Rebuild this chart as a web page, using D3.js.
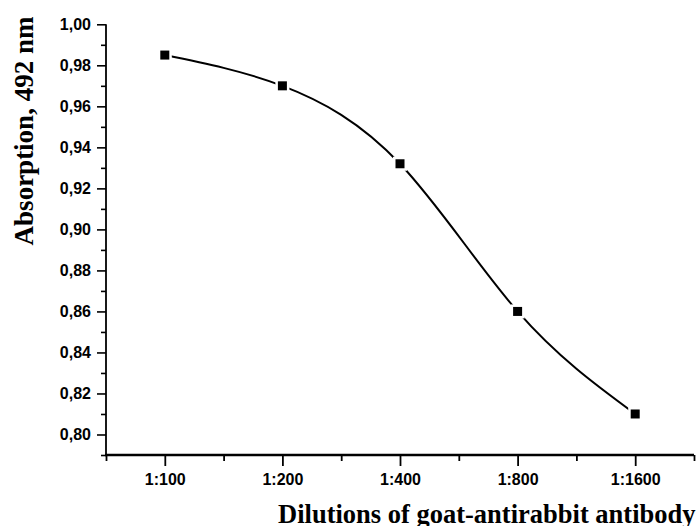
<!DOCTYPE html>
<html>
<head>
<meta charset="utf-8">
<script src="https://cdn.jsdelivr.net/npm/d3@7/dist/d3.min.js"></script>
<style>
  html, body { margin: 0; padding: 0; background: #fff; }
  svg { display: block; }
</style>
</head>
<body>
<svg id="chart" width="696" height="526"></svg>
<script>
const categories = ["1:100", "1:200", "1:400", "1:800", "1:1600"];
const absorption = [0.985, 0.970, 0.932, 0.860, 0.810];
const yMajorTicks = [0.80, 0.82, 0.84, 0.86, 0.88, 0.90, 0.92, 0.94, 0.96, 0.98, 1.00];
const yMinorTicks = [0.79, 0.81, 0.83, 0.85, 0.87, 0.89, 0.91, 0.93, 0.95, 0.97, 0.99];
const xTitle = "Dilutions of goat-antirabbit antibody";
const yTitle = "Absorption, 492 nm";

(function () {
const svg = d3.select("#chart");
const pLeft = 106, pRight = 694, pTop = 24.3, pBottom = 455;

const x = d3.scaleLinear().domain([-0.5, categories.length - 0.5]).range([pLeft, pRight]);
const y = d3.scaleLinear().domain([0.79, 1.00]).range([pBottom, pTop]);

const fmt = d => d3.format(".2f")(d).replace(".", ",");
const sans = "'Liberation Sans', Arial, sans-serif";
const serif = "'Liberation Serif', 'Times New Roman', serif";

// Y axis
const yAxis = svg.append("g").attr("transform", `translate(${pLeft},0)`);
yAxis.call(d3.axisLeft(y).tickValues(yMajorTicks).tickSize(9).tickPadding(6).tickFormat(fmt));
yAxis.select(".domain").remove();
yAxis.append("g").call(g => {
  g.call(d3.axisLeft(y).tickValues(yMinorTicks).tickSize(5).tickFormat(""));
  g.select(".domain").remove();
});
yAxis.append("line").attr("x1", 0).attr("x2", 0).attr("y1", y(1.00)).attr("y2", pBottom)
  .attr("stroke", "#000").attr("stroke-width", 1.8);
yAxis.selectAll(".tick line").attr("stroke", "#000").attr("stroke-width", 1.6);
yAxis.selectAll(".tick text")
  .attr("font-family", sans).attr("font-weight", "bold").attr("font-size", 16).attr("fill", "#000");

// X axis
const xAxis = svg.append("g").attr("transform", `translate(0,${pBottom})`);
const xMinor = d3.range(-0.5, categories.length, 1);
xAxis.call(d3.axisBottom(x).tickValues(d3.range(categories.length)).tickSize(11).tickPadding(8)
  .tickFormat(i => categories[i]));
xAxis.select(".domain").remove();
xAxis.append("g").call(g => {
  g.call(d3.axisBottom(x).tickValues(xMinor).tickSize(6).tickFormat(""));
  g.select(".domain").remove();
});
xAxis.append("line").attr("x1", pLeft - 1).attr("x2", pRight).attr("y1", 0).attr("y2", 0)
  .attr("stroke", "#000").attr("stroke-width", 2.4);
xAxis.selectAll(".tick line").attr("stroke", "#000").attr("stroke-width", 1.8);
xAxis.selectAll(".tick text")
  .attr("font-family", sans).attr("font-weight", "bold").attr("font-size", 16).attr("fill", "#000");

// Curve
const pts = categories.map((c, i) => [x(i), y(absorption[i])]);
svg.append("path")
  .attr("d", d3.line().curve(d3.curveNatural)(pts))
  .attr("fill", "none").attr("stroke", "#000").attr("stroke-width", 2);

// Markers
const s = 9, halo = 2.5;
svg.append("g").selectAll("rect").data(pts).join("rect")
  .attr("x", d => d[0] - s / 2 - halo).attr("y", d => d[1] - s / 2 - halo)
  .attr("width", s + 2 * halo).attr("height", s + 2 * halo).attr("fill", "#fff");
svg.append("g").selectAll("rect").data(pts).join("rect")
  .attr("x", d => d[0] - s / 2).attr("y", d => d[1] - s / 2)
  .attr("width", s).attr("height", s).attr("fill", "#000");

// Titles
svg.append("text").attr("x", 695.5).attr("y", 523).attr("text-anchor", "end")
  .attr("font-family", serif).attr("font-weight", "bold").attr("font-size", 26.5)
  .attr("fill", "#000").text(xTitle);
svg.append("text").attr("transform", "translate(33,131) rotate(-90)")
  .attr("text-anchor", "middle")
  .attr("font-family", serif).attr("font-weight", "bold").attr("font-size", 27)
  .attr("fill", "#000").text(yTitle);
})();
</script>
</body>
</html>
